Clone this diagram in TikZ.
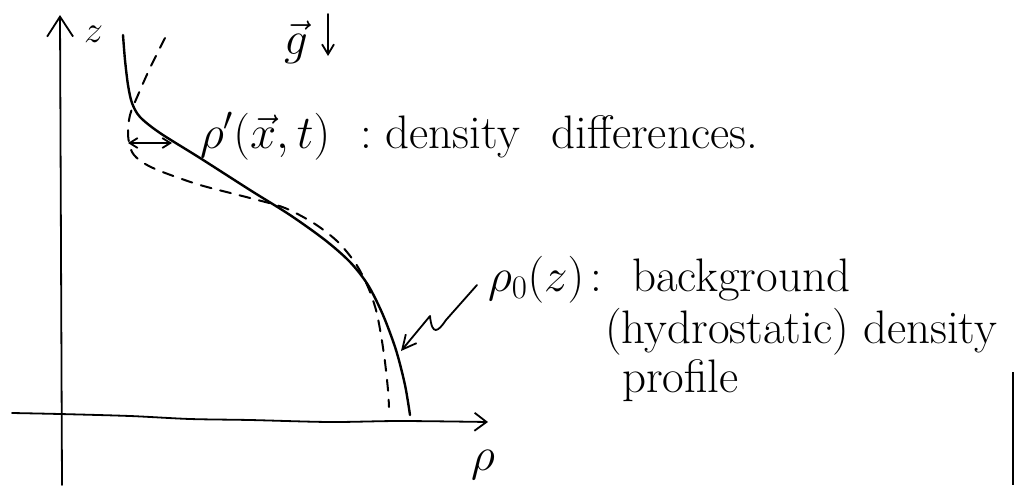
\RequirePackage{fix-cm}
\documentclass[tikz,border=0pt]{standalone}
\usepackage{fontspec}
\usetikzlibrary{arrows.meta}
\begin{document}
\begin{tikzpicture}[x=1pt,y=-1pt,
  hand/.style={line width=2.4pt, line cap=round, line join=round},
  dashcurve/.style={line width=2pt, line cap=round, dash pattern=on 11pt off 9pt},
  axis/.style={line width=1.8pt, line cap=round, line join=round},
  lbl/.style={inner sep=0pt, anchor=base west, font=\fontsize{47}{54}\selectfont},
  bigbarb/.style={-{Straight Barb[length=20pt,width=26pt,line width=1.8pt]}},
  barb/.style={-{Straight Barb[length=12pt,width=18pt,line width=1.8pt]}}
]
\useasboundingbox (0,0) rectangle (1015,485);

% axes
\coordinate (zb) at (62,485);
\coordinate (zt) at (60,15);
\draw[axis,bigbarb] (zb) -- (zt);
\draw[axis,barb] plot[smooth] coordinates {(12,413) (60,414) (130,416) (190,419) (250,420) (330,422) (400,421) (488,422)};

% labels of axes
\node[lbl, font=\fontsize{38}{42}\selectfont] (zlab) at (84,42) {$z$};
\node[lbl] (rholab) at (471,470) {$\rho$};

% gravity
\node[lbl] (g) at (284,54) {$\vec{g}$};
\coordinate (gt) at (328,14);
\coordinate (gb) at (328,56);
\draw[axis,-{Straight Barb[length=10pt,width=12pt,line width=1.8pt]}] (gt) -- (gb);

% background profile (solid)
\draw[hand] plot[smooth] coordinates {(123,35) (125,60) (128,85) (132,103) (140,117) (160,133) (200,158) (250,190) (290,215) (325,240) (350,262) (368,285) (383,315) (396,350) (405,385) (410,415)};

% perturbed profile (dashed)
\draw[dashcurve] plot[smooth] coordinates {(165,38) (150,68) (138,95) (130,115) (128,135) (132,152) (142,162) (160,171) (200,185) (250,198) (285,208) (315,224) (338,242) (356,264) (368,287) (376,310) (381,335) (385,362) (388,390) (389,407)};

% density difference arrow
\coordinate (da) at (128,143);
\coordinate (db) at (172,143);
\draw[line width=1.8pt, {Straight Barb[length=8pt,width=10pt]}-{Straight Barb[length=8pt,width=10pt]}] (da) -- (db);

% texts
\node[lbl] (pert) at (200,148) {$\rho'(\vec{x},t)$\hspace{30pt}:\hspace{14pt}density\hspace{32pt}differences.};
\node[lbl] (bg1) at (488,291) {$\rho_0(z)$\hspace{6pt}:\hspace{30pt}background};
\node[lbl] (bg2) at (605,343) {(hydrostatic) density};
\node[lbl] (bg3) at (622,392) {profile};

% leader
\coordinate (ls) at (477,285);
\coordinate (le) at (401,351);
\draw[line width=1.8pt, line cap=round, line join=round, -{Straight Barb[length=14pt,width=14pt]}] (ls) -- (446,320) .. controls (438,332) and (432,336) .. (430,316) -- (le);

% scan edge
\draw[line width=1.5pt] (1013,372) -- (1013,485);
\end{tikzpicture}
\end{document}
